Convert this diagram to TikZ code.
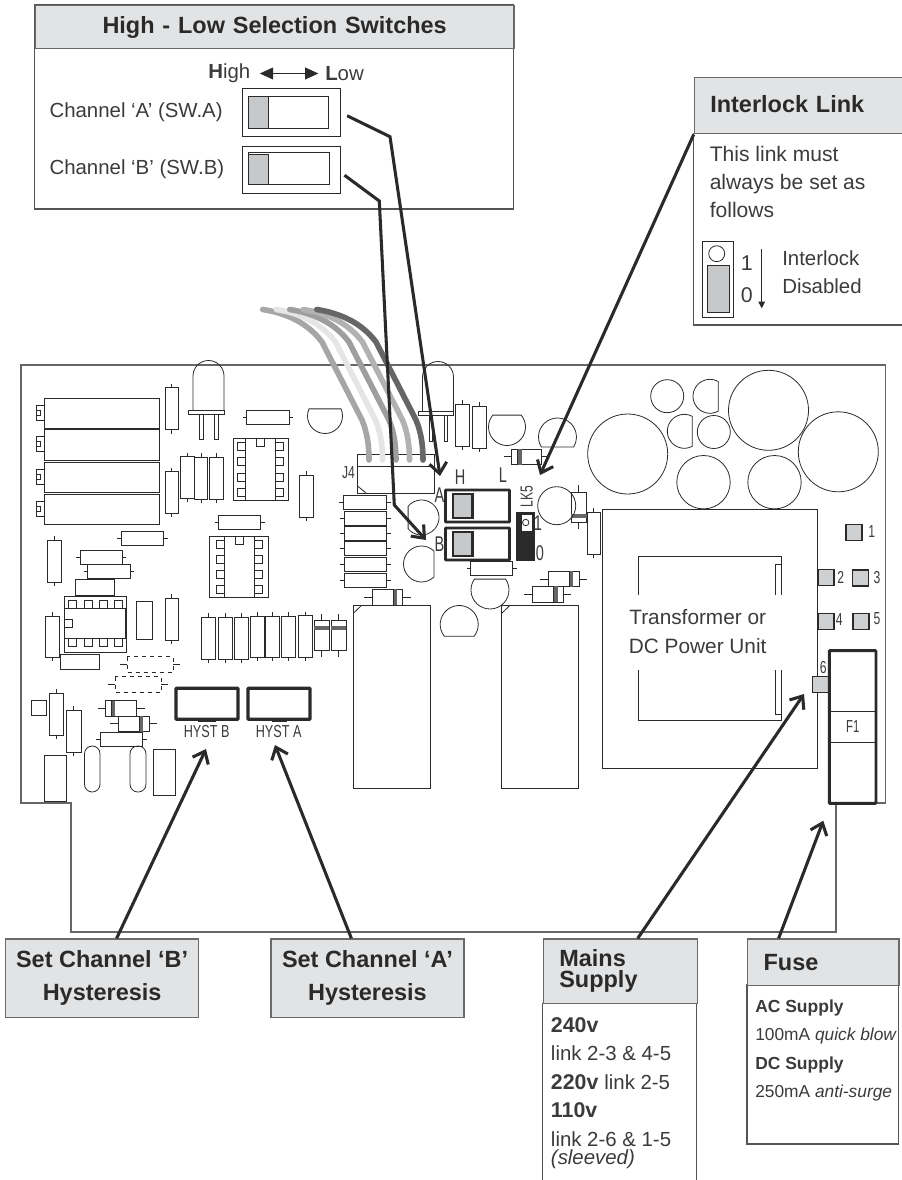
\documentclass[tikz,border=0pt]{standalone}
\usepackage{fontspec}
\usepackage{graphicx}
\setmainfont{Liberation Sans}
\usetikzlibrary{arrows.meta}
\definecolor{headgray}{HTML}{E1E3E4}
\definecolor{slidegray}{HTML}{C7C8CA}
\definecolor{termgray}{HTML}{CFD0D2}
\definecolor{inkdark}{HTML}{2B2A2A}
\definecolor{softink}{HTML}{3C3B3B}
\tikzset{
  part/.style={draw=inkdark,line width=0.6pt},
  boardline/.style={draw=black!60,line width=0.8pt},
  boxline/.style={draw=inkdark!80,line width=0.8pt},
  headbox/.style={draw=inkdark!70,line width=0.9pt,fill=headgray,inner xsep=12pt,inner ysep=0pt,
    align=left,font=\fontsize{17.6}{18}\selectfont\bfseries,text=inkdark},
  bodytext/.style={anchor=west,inner sep=0pt,text=softink,font=\fontsize{15.3}{17}\selectfont},
  fusetext/.style={anchor=west,inner sep=0pt,text=softink,font=\fontsize{13}{15}\selectfont},
  pcbtext/.style={inner sep=0pt,text=softink,font=\fontsize{13}{14}\selectfont},
  bigpcb/.style={inner sep=0pt,text=softink,font=\fontsize{16}{18}\selectfont},
  callout/.style={draw=inkdark,line width=2.3pt,miter limit=10,-{Straight Barb[length=8pt,width=13pt,line width=2.3pt]}},
  terminal/.style={part,line width=1pt,fill=termgray},
  heavy/.style={draw=inkdark,line width=2.2pt,fill=white,rounded corners=0.5pt},
}
% D shaped part: x, y, radius, rotation, half angle of the flat
\newcommand{\dcap}[5]{\draw[part,shift={(#1,#2)},rotate=#4] ({180-#5}:#3) arc ({180-#5}:{360+#5}:#3) -- cycle;}
\begin{document}
\begin{tikzpicture}[x=0.75pt,y=-0.75pt]
\useasboundingbox (0,0) rectangle (901,1180);
% board
\draw[boardline] (876,803) -- (885.5,803) -- (885.5,365) -- (21,365) -- (21,803) -- (71,803) -- (71,932) -- (836,932) -- (836,803);
% relays on the left
\foreach \ya/\yb in {398/428,429.5/460,462/492,494/524} {
  \draw[part] (44.5,\ya) rectangle (159,\yb);
  \draw[part] (44.5,\ya+7) -- (36.5,\ya+7) -- (36.5,\ya+22) -- (44.5,\ya+22);
  \draw[part] (36.5,\ya+12) -- (40.5,\ya+12) -- (40.5,\ya+17) -- (36.5,\ya+17);
}
% upright resistors
\foreach \xa/\xb/\ya/\yb in {165/178.5/387.5/429.5,165/178.5/471.7/513,47/61/540/582,165/178.5/598/640,45.5/59.5/616/657,
  180/194/456.5/498,194.5/207.5/457/499,209/223/457/499,299.5/313/475/517,201.5/215.5/617/659,218.5/232/617/659,234/248/617/659,
  250.5/264/616/657,265.5/279/616/657,281/295/616/657,298/312/615.5/657,49.5/63/693/735,66.5/81/710/752,
  455.5/469.5/404/446,472.5/486/406/448,587/600.7/512/554} {
  \draw[part] (\xa,\ya) rectangle (\xb,\yb);
  \draw[part] ({(\xa+\xb)/2},\ya) -- +(0,-4);
  \draw[part] ({(\xa+\xb)/2},\yb) -- +(0,4);
}
% flat resistors
\foreach \xa/\xb/\ya/\yb in {121/163.5/531/545,80/122/550.5/564.5,87.5/130/564.5/578.5,246.5/289/410.5/424.5,218.5/260.5/515.5/529.5,
  100/142.5/732/746,343/386.5/495.5/509.5,344/386.5/511/525,344/386.5/526.5/540.5,344/386.5/541.5/555.5,344/386.5/557/571,344/386.5/573.5/587.5,
  470.7/512.7/561/575} {
  \draw[part] (\xa,\ya) rectangle (\xb,\yb);
  \draw[part] (\xa,{(\ya+\yb)/2}) -- +(-4,0);
  \draw[part] (\xb,{(\ya+\yb)/2}) -- +(4,0);
}
% diodes
\foreach \xa/\xb/\ya/\yb/\ba in {105.5/136.5/700.5/716/111,118/149/716/731.5/139,511.5/541.5/449/464.5/517.5,372.3/402.7/589.3/605.3/393.3,
  548.3/579/571.3/586.7/569.3,532.3/563.3/586.3/602/553.5} {
  \draw[part] (\xa,\ya) rectangle (\xb,\yb);
  \fill[black!60] (\ba,\ya) rectangle (\ba+4,\yb);
  \draw[part] (\ba,\ya) -- (\ba,\yb);
  \draw[part] (\xa,{(\ya+\yb)/2}) -- +(-8,0);
  \draw[part] (\xb,{(\ya+\yb)/2}) -- +(8,0);
}
\foreach \xa/\xb/\ya/\yb/\ba in {314/329/620.5/650/625.5,331/346/620.5/650/625.5,571/586.7/492/522.3/513.5} {
  \draw[part] (\xa,\ya) rectangle (\xb,\yb);
  \fill[black!60] (\xa,\ba) rectangle (\xb,\ba+4);
  \draw[part] ({(\xa+\xb)/2},\ya) -- +(0,-7);
  \draw[part] ({(\xa+\xb)/2},\yb) -- +(0,7);
}
% dashed parts
\foreach \xa/\xb/\ya/\yb in {127/173/656.5/672,115/161/676.5/692} {
  \draw[part,dashed] (\xa,\ya) rectangle (\xb,\yb);
  \draw[part] (\xa,{(\ya+\yb)/2}) -- +(-7,0);
  \draw[part] (\xb,{(\ya+\yb)/2}) -- +(7,0);
}
% plain blocks
\foreach \xa/\xb/\ya/\yb in {75.5/114.5/579/595,60.5/99.5/654/669,136.5/152/601/639,31/46.5/700/715.5,44.5/66/755.5/801.5,153/175/749.5/795.5} {
  \draw[part] (\xa,\ya) rectangle (\xb,\yb);
}
\draw[part,rounded corners=5.8pt] (84.5,746) rectangle (100,792);
\draw[part,rounded corners=5.8pt] (130,746) rectangle (146,792);
% LEDs
\foreach \xa/\ya/\yl in {193/410/439,422.5/411/441} {
  \draw[part] (\xa,\ya) -- (\xa,\ya-34) arc (180:360:15.5) -- (\xa+31,\ya);
  \draw[part] (\xa-4.5,\ya) rectangle (\xa+31,\ya+4.5);
  \draw[part] (\xa+6.5,\ya+4.5) rectangle (\xa+10,\yl);
  \draw[part] (\xa+21.5,\ya+4.5) rectangle (\xa+25,\yl);
}
% ICs
\draw[part] (233,438.5) rectangle (288,500);
\draw[part] (245.5,438.5) rectangle (275.5,500);
\draw[part] (256.5,438.5) rectangle (264.5,446.5);
\foreach \yy in {442.5,457.5,473,488} {
  \draw[part] (237.5,\yy) rectangle (245.5,\yy+8);
  \draw[part] (275.5,\yy) rectangle (283.5,\yy+8);
}
\draw[part] (209.5,536.5) rectangle (268.5,597.5);
\draw[part] (224,536.5) rectangle (254.5,597.5);
\draw[part] (235,536.5) rectangle (243,544.5);
\foreach \yy in {540,555,570.5,585.5} {
  \draw[part] (216,\yy) rectangle (224,\yy+8);
  \draw[part] (254.5,\yy) rectangle (262.5,\yy+8);
}
\draw[part] (64.5,596) rectangle (126,652);
\draw[part] (64.5,608) rectangle (126,638);
\draw[part,line width=1.2pt] (126,608) -- (126,638);
\draw[part] (64.5,619) rectangle (72.5,627);
\foreach \xx in {68.5,84,99.5,114.5} {
  \draw[part] (\xx,600) rectangle (\xx+8,608);
  \draw[part] (\xx,638) rectangle (\xx+8,646);
}
% round parts
\foreach \xx/\yy/\rr in {667.2/396.2/16.5,627.7/454/40,713.8/432/16.5,768.5/410.3/40,838.3/451.8/40,703.5/482.2/26.7,774.5/482.2/26.7,556.7/505.7/19} {
  \draw[part] (\xx,\yy) circle (\rr);
}
\dcap{325}{416}{17.5}{180}{24}
\dcap{507}{427}{18.5}{180}{40}
\dcap{557.5}{437}{19}{0}{32}
\dcap{710}{396.3}{17}{90}{29}
\dcap{684.3}{431.3}{17}{90}{28}
\dcap{421.5}{517.5}{17.5}{-90}{50}
\dcap{421.5}{564}{18}{90}{44}
\dcap{490}{590}{19}{180}{35}
\dcap{459.2}{624.5}{19}{0}{38}
% big relays
\foreach \xa in {353.3,501.7} {
  \draw[part] (\xa,605.3) rectangle (\xa+76.7,788);
  \draw[part] (\xa,613.3) -- (\xa+8.3,605.3);
}
% J4 and the wires
\draw[part] (357.5,454) rectangle (434.5,493);
\draw[part] (357.5,466) -- (434.5,466);
\draw[part] (357.5,486) -- (366,493);
\node[pcbtext] (jfour) at (348.5,472.7) {\scalebox{.7}[1]{J4}};
\foreach \wx/\wc in {0/black!35,1/black!10,2/black!38,3/black!30,4/black!60} {
  \draw[draw=\wc,line width=4.2pt,line cap=round] (262.7+13.5*\wx,309.5) .. controls (285+13.5*\wx,313) and (307+13.5*\wx,322) .. (322+13.5*\wx,342)
    -- (362+13.5*\wx,420) .. controls (367+13.5*\wx,432) and (369+13.5*\wx,445) .. (369+13.5*\wx,460);
}
% switches on the board
\foreach \ya/\nm in {490/A,528/B} {
  \draw[heavy] (445.5,\ya) rectangle (509.5,\ya+32);
  \draw[draw=inkdark,line width=1.6pt,fill=slidegray] (453,\ya+4) rectangle (472.5,\ya+28);
}
\node[bigpcb] (highmark) at (460,477) {\scalebox{.68}[1]{H}};
\node[bigpcb] (lowmark) at (503,475.5) {\scalebox{.68}[1]{L}};
\node[bigpcb] (amark) at (439.5,495) {\scalebox{.68}[1]{A}};
\node[bigpcb] (bmark) at (439.5,544) {\scalebox{.68}[1]{B}};
% LK5
\fill[inkdark] (516,512.3) rectangle (534.5,560.7);
\fill[white] (521.7,515) rectangle (531.7,530.7);
\draw[part] (525.7,522.5) circle (3.2);
\node[pcbtext,rotate=90] (lkfive) at (526.7,496.5) {\scalebox{.7}[1]{LK5}};
\node[bigpcb] (lkone) at (538,523) {\scalebox{.68}[1]{1}};
\node[bigpcb] (lkzero) at (540,553) {\scalebox{.68}[1]{0}};
% transformer
\draw[part] (602.7,509.3) rectangle (817.3,768);
\draw[part] (638.3,595) -- (638.3,556.3) -- (781.7,556.3) -- (781.7,595);
\draw[part] (775.3,595) -- (775.3,564) -- (781.7,564);
\draw[part] (638.3,670) -- (638.3,720.7) -- (781.7,720.7) -- (781.7,670);
\draw[part] (775.3,670) -- (775.3,714) -- (781.7,714);
\node[inner sep=0pt,align=center,text=softink,font=\fontsize{15.6}{21.3}\selectfont] (xformer) at (697.7,631.5) {Transformer or\\DC Power Unit};
% terminals
\foreach \xx/\yy in {846/524.7,818/569.7,852.3/570,818/613.3,853/613.3,812.3/676.7} {
  \draw[terminal] (\xx,\yy) rectangle (\xx+16,\yy+16);
}
\node[pcbtext] (tone) at (871.7,532) {\scalebox{.7}[1]{1}};
\node[pcbtext] (ttwo) at (840.7,577.7) {\scalebox{.7}[1]{2}};
\node[pcbtext] (tthree) at (877,578) {\scalebox{.7}[1]{3}};
\node[pcbtext] (tfour) at (839.3,619.3) {\scalebox{.7}[1]{4}};
\node[pcbtext] (tfive) at (877,619) {\scalebox{.7}[1]{5}};
\node[pcbtext] (tsix) at (823.3,667.7) {\scalebox{.7}[1]{6}};
% fuse
\draw[heavy] (829.3,650.7) rectangle (876,803.3);
\draw[part] (829.3,711) -- (876,711);
\draw[part] (829.3,742) -- (876,742);
\node[pcbtext] (fone) at (852.7,726.7) {\scalebox{.65}[1]{F1}};
% hysteresis presets
\foreach \xa/\ta/\tb in {176/197.7/216,248/271.7/286.7} {
  \draw[draw=inkdark,line width=2.4pt,rounded corners=0.5pt] (\xa,688.3) rectangle (\xa+62,719.3);
  \fill[inkdark] (\ta,719.3) rectangle (\tb,722);
}
\node[pcbtext] (hystbmark) at (206.7,732) {\scalebox{.73}[1]{HYST B}};
\node[pcbtext] (hystamark) at (278.7,732) {\scalebox{.73}[1]{HYST A}};
% high - low box
\draw[boxline] (34.7,5) rectangle (513.3,209);
\node[headbox,anchor=north west,minimum width=359pt,text width=335pt,minimum height=32.3pt,align=center] (swhead) at (34.7,5) {\raisebox{-1pt}{High - Low Selection Switches}};
\node[bodytext] (highlab) at (208,73.5) {\textbf{H}igh};
\node[bodytext] (lowlab) at (325,73.5) {\textbf{L}ow};
\draw[draw=inkdark,line width=0.7pt,{Triangle[length=10pt,width=9pt]}-{Triangle[length=10pt,width=9pt]},shorten <=7pt,shorten >=5pt] (highlab.east) -- (lowlab.west);
\node[bodytext] (chanA) at (49.3,112.5) {Channel ‘A’ (SW.A)};
\node[bodytext] (chanB) at (49.3,169) {Channel ‘B’ (SW.B)};
\node[part,inner sep=0pt,minimum width=73.3pt,minimum height=35.5pt] (swAframe) at (291.2,112.4) {};
\node[part,inner sep=0pt,minimum width=73.3pt,minimum height=35.8pt] (swBframe) at (291.2,169.9) {};
\draw[part] (248.3,96.7) rectangle (328.3,128.7);
\draw[part,fill=slidegray] (248.3,96.7) rectangle (268.7,128.7);
\draw[part] (248.3,152.3) rectangle (329.3,184.7);
\draw[part,fill=slidegray] (248.3,154.3) rectangle (268.7,184.7);
% interlock box
\draw[boxline] (693.7,133.3) -- (693.7,325) -- (910,325);
\node[headbox,anchor=north west,minimum width=165pt,text width=141pt,minimum height=42pt] (lockhead) at (693.7,77.3) {\raisebox{3.5pt}{Interlock Link}};
\node[bodytext,font=\fontsize{15.8}{21}\selectfont,align=left,anchor=north west] (lockinfo) at (709.5,146) {This link must\\always be set as\\follows};
\draw[part] (702.7,241.3) rectangle (733,317.3);
\draw[part] (716.7,253.7) circle (8);
\draw[part,fill=slidegray] (707,265) rectangle (729,312.7);
\node[bigpcb] (lockone) at (746.7,262.7) {1};
\node[bigpcb] (lockzero) at (746.7,295) {0};
\coordinate (lockup) at (761.7,249);
\coordinate (lockdown) at (761.7,308.3);
\draw[draw=inkdark,line width=0.6pt,-{Triangle[length=5pt,width=5pt]}] (lockup) -- (lockdown);
\node[bodytext,font=\fontsize{15.3}{21}\selectfont,align=left,anchor=north west] (lockstate) at (782,250) {Interlock\\Disabled};
% hysteresis boxes
\node[headbox,anchor=north west,minimum width=144.8pt,minimum height=58.8pt,align=center,inner xsep=0pt,font=\fontsize{17.6}{24.4}\selectfont\bfseries] (setB) at (5,938.3) {Set Channel ‘B’\\Hysteresis};
\node[headbox,anchor=north west,minimum width=144.8pt,minimum height=58.8pt,align=center,inner xsep=0pt,font=\fontsize{17.6}{24.4}\selectfont\bfseries] (setA) at (270.3,938.3) {Set Channel ‘A’\\Hysteresis};
% mains box
\draw[boxline] (542.7,1002.7) -- (542.7,1185) (696.7,1002.7) -- (696.7,1185);
\node[headbox,anchor=north west,minimum width=115.5pt,text width=91.5pt,minimum height=48.3pt,font=\fontsize{17.6}{15.5}\selectfont\bfseries] (mainshead) at (542.7,938.3) {Mains\\Supply};
\node[bodytext,font=\fontsize{16}{17}\selectfont\bfseries] (mainsa) at (550.7,1025) {240v};
\node[bodytext] (mainsb) at (550.7,1053) {link 2-3 \& 4-5};
\node[bodytext] (mainsc) at (550.7,1081.7) {\fontsize{16}{17}\selectfont\textbf{220v} \fontsize{15.3}{17}\selectfont link 2-5};
\node[bodytext,font=\fontsize{16}{17}\selectfont\bfseries] (mainsd) at (550.7,1110) {110v};
\node[bodytext] (mainse) at (550.7,1139) {link 2-6 \& 1-5};
\node[bodytext] (mainsf) at (550.7,1159) {\itshape (sleeved)};
% fuse box
\draw[boxline] (747,984.3) rectangle (898.3,1144);
\node[headbox,anchor=north west,minimum width=113.5pt,text width=89.5pt,minimum height=34.7pt] (fusehead) at (747,938.3) {Fuse};
\node[fusetext,font=\fontsize{13.1}{15}\selectfont\bfseries] (fusea) at (755,1008) {AC Supply};
\node[fusetext] (fuseb) at (755,1036) {100mA \textit{quick blow}};
\node[fusetext,font=\fontsize{13.1}{15}\selectfont\bfseries] (fusec) at (755,1065) {DC Supply};
\node[fusetext] (fused) at (755,1093) {250mA \textit{anti-surge}};
% callouts
\coordinate (swAbend) at (390,136.7);
\coordinate (swAtip) at (440,476);
\coordinate (swBbend) at (379.3,201);
\coordinate (swBknee) at (394.3,505);
\coordinate (swBtip) at (426,540);
\coordinate (lockTip) at (540,475);
\coordinate (hystBtip) at (206,749);
\coordinate (hystAtip) at (275,745);
\coordinate (mainsTip) at (804,694);
\coordinate (fuseTip) at (823.3,820.7);
\draw[callout] ([shift={(5pt,-2.5pt)}]swAframe.east) -- (swAbend) -- (swAtip);
\draw[callout] ([shift={(3pt,-4pt)}]swBframe.east) -- (swBbend) -- (swBknee) -- (swBtip);
\draw[callout] (lockhead.south west) -- (lockTip);
\draw[callout] (setB.70) -- (hystBtip);
\draw[callout] (setA.112) -- (hystAtip);
\draw[callout] (mainshead.62) -- (mainsTip);
\draw[callout] (fusehead.152) -- (fuseTip);
\end{tikzpicture}
\end{document}
